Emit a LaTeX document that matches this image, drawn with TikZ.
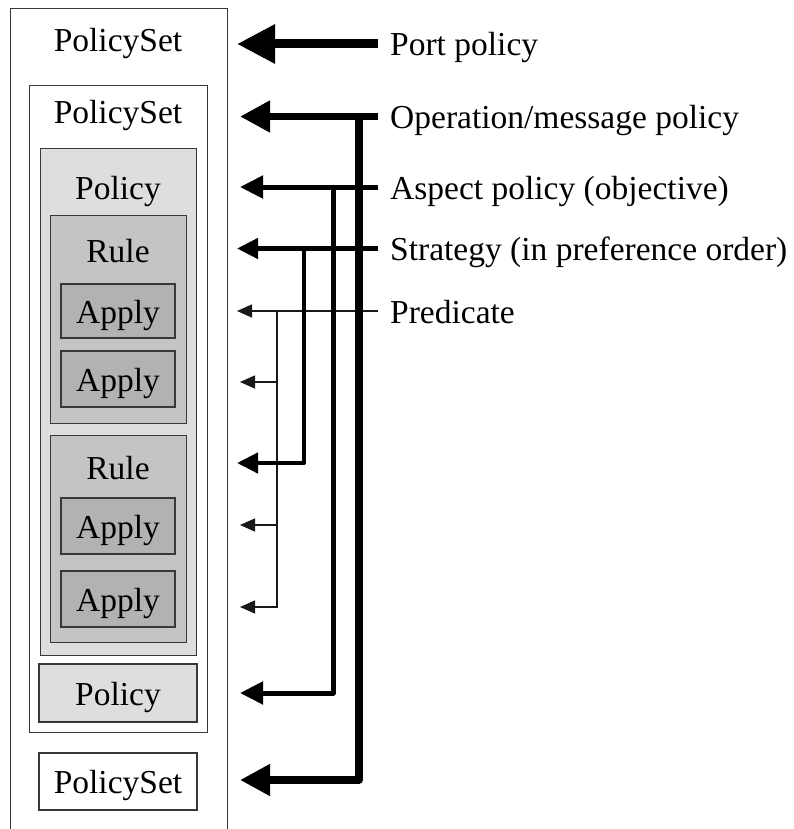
\documentclass[tikz,border=0pt]{standalone}
\usepackage{fontspec}
\setmainfont{Liberation Serif}
\usetikzlibrary{arrows.meta}
\definecolor{policyfill}{gray}{0.87}
\definecolor{rulefill}{gray}{0.77}
\definecolor{applyfill}{gray}{0.70}
\definecolor{edge}{gray}{0.22}
\begin{document}
\begin{tikzpicture}[x=1pt,y=-1pt,
  frame/.style={draw=edge, line width=1.3pt, rectangle, inner sep=0pt},
  cbox/.style={frame, anchor=north west},
  txt/.style={font=\fontsize{33.5}{36}\selectfont, text height=24pt, text depth=0pt, inner sep=0pt},
  lbl/.style={txt, anchor=west, inner xsep=12pt},
  portln/.style={line width=9pt, -{Triangle[length=38pt,width=37pt]}},
  opln/.style={line width=7.5pt, line join=round, -{Triangle[length=30pt,width=30pt]}},
  aspln/.style={line width=5pt, line join=round, -{Triangle[length=23pt,width=22pt]}},
  strln/.style={line width=4.5pt, line join=round, -{Triangle[length=21pt,width=20pt]}},
  predln/.style={line width=1.3pt, draw=black!90, -{Triangle[length=15pt,width=13pt]}}
]
\useasboundingbox (0,0) rectangle (794,829);
\clip (0,0) rectangle (794,829);

% nested containers
\node[cbox, minimum width=217pt, minimum height=860pt] (outer) at (10,8) {};
\node[cbox, minimum width=178pt, minimum height=647pt] (inner) at (29,85) {};
\node[cbox, fill=policyfill, minimum width=156pt, minimum height=507pt] (policyA) at (40,148) {};
\node[cbox, fill=rulefill, minimum width=136pt, minimum height=208pt] (ruleA) at (50,215) {};
\node[cbox, fill=rulefill, minimum width=136pt, minimum height=207pt] (ruleB) at (50,435) {};

% container titles
\node[txt] (psA) at (118,40) {PolicySet};
\node[txt] (psB) at (118,112) {PolicySet};
\node[txt] (polA) at (118,188) {Policy};
\node[txt] (rlA) at (118,250) {Rule};
\node[txt] (rlB) at (118,467) {Rule};

% leaf boxes
\node[frame, txt, fill=applyfill, minimum width=114pt, minimum height=54pt] (apA) at (118,311) {Apply};
\node[frame, txt, fill=applyfill, minimum width=114pt, minimum height=56pt] (apB) at (118,379) {Apply};
\node[frame, txt, fill=applyfill, minimum width=114pt, minimum height=56pt] (apC) at (118,526) {Apply};
\node[frame, txt, fill=applyfill, minimum width=114pt, minimum height=56pt] (apD) at (118,599) {Apply};
\node[frame, txt, fill=policyfill, minimum width=158pt, minimum height=58pt] (polB) at (118,693) {Policy};
\node[frame, txt, fill=white, minimum width=158pt, minimum height=57pt] (psC) at (118,781.5) {PolicySet};

% legend labels
\node[lbl] (lPort) at (378,44) {Port policy};
\node[lbl] (lOp) at (378,116.5) {Operation/message policy};
\node[lbl] (lAsp) at (378,187) {Aspect policy (objective)};
\node[lbl] (lStr) at (378,248.5) {Strategy (in preference order)};
\node[lbl] (lPred) at (378,311) {Predicate};

% arrow tips and bends
\coordinate (tPort) at (237,44);
\coordinate (tOpA) at (240,116.5);
\coordinate (jOp) at (359,116.5);
\coordinate (bOp) at (359,780);
\coordinate (tOpB) at (240,780);
\coordinate (tAspA) at (240,187);
\coordinate (jAsp) at (333,187);
\coordinate (bAsp) at (333,693);
\coordinate (tAspB) at (240,693);
\coordinate (tStrA) at (237,248.5);
\coordinate (jStr) at (304,248.5);
\coordinate (bStr) at (304,463);
\coordinate (tStrB) at (237,463);
\coordinate (tPrA) at (237,311);
\coordinate (jPr) at (277,311);
\coordinate (mPrB) at (277,382);
\coordinate (tPrB) at (240,382);
\coordinate (mPrC) at (277,525);
\coordinate (tPrC) at (240,525);
\coordinate (bPr) at (277,607);
\coordinate (tPrD) at (240,607);

% predicate connectors (thin)
\draw[predln] (lPred.west) -- (tPrA);
\draw[predln] (jPr) -- (bPr) -- (tPrD);
\draw[predln] (mPrB) -- (tPrB);
\draw[predln] (mPrC) -- (tPrC);

% strategy connectors
\draw[strln] (lStr.west) -- (tStrA);
\draw[strln] (jStr) -- (bStr) -- (tStrB);

% aspect connectors
\draw[aspln] (lAsp.west) -- (tAspA);
\draw[aspln] (jAsp) -- (bAsp) -- (tAspB);

% operation connectors
\draw[opln] (lOp.west) -- (tOpA);
\draw[opln] (jOp) -- (bOp) -- (tOpB);

% port connector
\draw[portln] (lPort.west) -- (tPort);
\end{tikzpicture}
\end{document}
